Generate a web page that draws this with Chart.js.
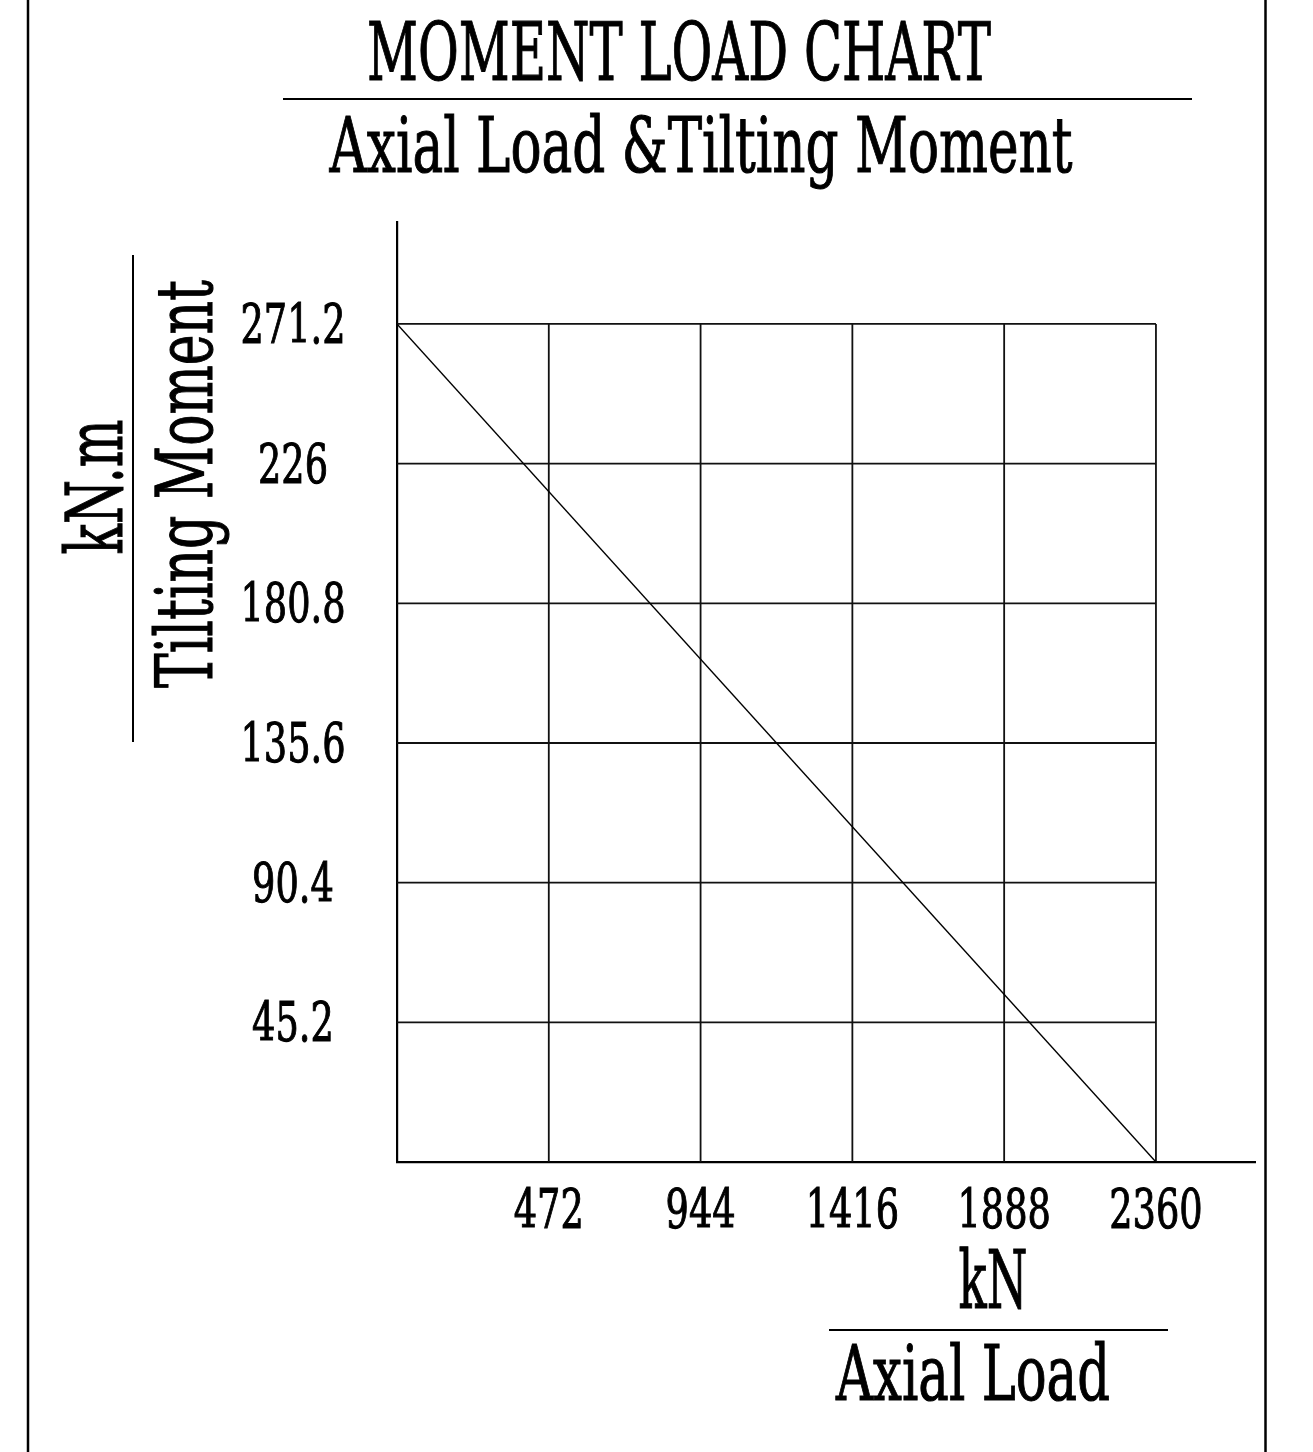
<!DOCTYPE html>
<html>
<head>
<meta charset="utf-8">
<script src="https://cdn.jsdelivr.net/npm/chart.js@4"></script>
<style>
  body { margin: 0; background: #fff; }
  #wrap { width: 1313px; height: 1452px; position: relative; }
</style>
</head>
<body>
<div id="wrap"><canvas id="momentChart"></canvas></div>
<script>
const axialLoad = [0, 2360];
const tiltingMoment = [271.2, 0];
const xTicks = [472, 944, 1416, 1888, 2360];
const yTicks = [45.2, 90.4, 135.6, 180.8, 226, 271.2];
const xTickLabels = ["472", "944", "1416", "1888", "2360"];
const yTickLabels = ["45.2", "90.4", "135.6", "180.8", "226", "271.2"];

const FONT = "'DejaVu Serif'";

// text squeezed sideways to a given width (the original uses a narrow serif)
function squeezed(ctx, text, x, y, size, width, rotate) {
  ctx.save();
  ctx.font = size + "px " + FONT;
  const w = ctx.measureText(text).width;
  ctx.translate(x, y);
  if (rotate) ctx.rotate(-Math.PI / 2);
  ctx.scale(width / w, 1);
  ctx.textAlign = "center";
  ctx.textBaseline = "alphabetic";
  ctx.fillStyle = "#000";
  ctx.strokeStyle = "#000";
  ctx.lineWidth = 1.1;
  ctx.fillText(text, 0, 0);
  ctx.strokeText(text, 0, 0);
  ctx.restore();
}

function tickText(ctx, text, x, y) {
  ctx.font = "54px " + FONT;
  const w = ctx.measureText(text).width;
  squeezed(ctx, text, x, y, 54, w * 0.68, false);
}

function line(ctx, x1, y1, x2, y2, w) {
  ctx.save();
  ctx.strokeStyle = "#000";
  ctx.lineWidth = w;
  ctx.beginPath();
  ctx.moveTo(x1, y1);
  ctx.lineTo(x2, y2);
  ctx.stroke();
  ctx.restore();
}

const boxGrid = {
  id: "boxGrid",
  beforeDatasetsDraw(chart) {
    const { ctx, scales: { x, y } } = chart;
    const x0 = x.getPixelForValue(0);
    const xEnd = x.getPixelForValue(xTicks[xTicks.length - 1]);
    const y0 = y.getPixelForValue(0);
    const yEnd = y.getPixelForValue(yTicks[yTicks.length - 1]);
    ctx.save();
    ctx.strokeStyle = "#111";
    ctx.lineWidth = 1.8;
    ctx.beginPath();
    xTicks.forEach(v => {
      const px = x.getPixelForValue(v);
      ctx.moveTo(px, y0);
      ctx.lineTo(px, yEnd);
    });
    yTicks.forEach(v => {
      const py = y.getPixelForValue(v);
      ctx.moveTo(x0, py);
      ctx.lineTo(xEnd, py);
    });
    ctx.stroke();
    ctx.restore();
  },
  afterDraw(chart) {
    const { ctx, scales: { x, y } } = chart;
    const H = chart.height;

    // tick labels
    xTicks.forEach((v, i) => tickText(ctx, xTickLabels[i], x.getPixelForValue(v), y.getPixelForValue(0) + 66));
    yTicks.forEach((v, i) => tickText(ctx, yTickLabels[i], 293, y.getPixelForValue(v) + 19));

    // page frame
    line(ctx, 28, 0, 28, H, 2.5);
    line(ctx, 1265.5, 0, 1265.5, H, 2.5);

    // titles
    squeezed(ctx, "MOMENT LOAD CHART", 679, 80, 80, 624);
    line(ctx, 283, 99, 1192, 99, 2);
    squeezed(ctx, "Axial Load &Tilting Moment", 701, 172, 77, 743);

    // y axis title
    squeezed(ctx, "kN.m", 122, 487, 78, 135, true);
    line(ctx, 133, 255, 133, 742, 2);
    squeezed(ctx, "Tilting Moment", 212, 484, 78, 408, true);

    // x axis title
    squeezed(ctx, "kN", 993, 1308, 80, 69);
    line(ctx, 829, 1330, 1168, 1330, 2);
    squeezed(ctx, "Axial Load", 973, 1400, 76, 274);
  }
};

new Chart(document.getElementById("momentChart"), {
  type: "line",
  data: {
    datasets: [{
      data: axialLoad.map((v, i) => ({ x: v, y: tiltingMoment[i] })),
      borderColor: "#000",
      borderWidth: 1.4,
      pointRadius: 0,
      tension: 0,
      fill: false
    }]
  },
  options: {
    responsive: true,
    maintainAspectRatio: false,
    animation: false,
    layout: { padding: { left: 397, right: 58, top: 222, bottom: 290 } },
    plugins: { legend: { display: false }, tooltip: { enabled: false } },
    scales: {
      x: {
        type: "linear",
        min: 0,
        max: 2668,
        grid: { display: false, drawTicks: false },
        border: { display: true, color: "#000", width: 2.2 },
        ticks: { display: false }
      },
      y: {
        type: "linear",
        min: 0,
        max: 304.2,
        grid: { display: false, drawTicks: false },
        border: { display: true, color: "#000", width: 2.2 },
        ticks: { display: false }
      }
    }
  },
  plugins: [boxGrid]
});
</script>
</body>
</html>
